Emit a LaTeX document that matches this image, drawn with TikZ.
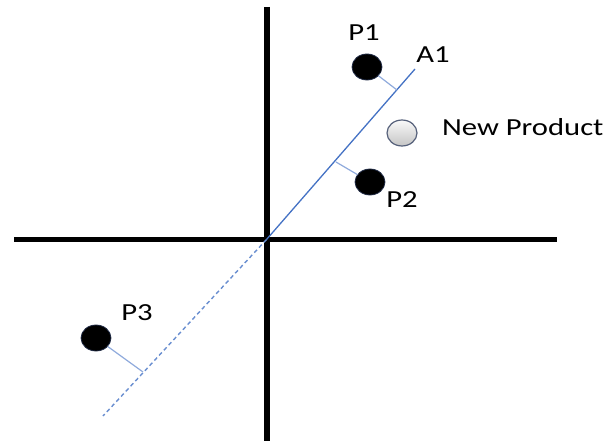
\documentclass[tikz,border=0pt]{standalone}
\usepackage{fontspec}
\newfontfamily\carlito{Carlito}
\usetikzlibrary{calc, shapes.geometric}
\definecolor{ABlue}{HTML}{4472C4}
\definecolor{LBlue}{HTML}{8FAADC}
\definecolor{DNavy}{HTML}{1F2A44}
\definecolor{LGrey}{HTML}{D6D6D6}
\definecolor{EGrey}{HTML}{55607A}

\begin{document}
\begin{tikzpicture}[x=1pt, y=-1pt,
    point/.style={ellipse, draw=DNavy, line width=0.8pt, fill=black, minimum width=30pt, minimum height=26pt, inner sep=0pt},
    newpoint/.style={ellipse, draw=EGrey, line width=1.2pt, top color=white!85!LGrey, bottom color=LGrey!80!gray, minimum width=30pt, minimum height=26pt, inner sep=0pt},
    lbl/.style={inner sep=0pt, font=\carlito\fontsize{24.5}{27}\selectfont}]

    \useasboundingbox (0,0) rectangle (614,441);

    % axes
    \coordinate (left) at (14,239.5);
    \coordinate (right) at (557,239.5);
    \coordinate (top) at (266.5,7);
    \coordinate (bottom) at (266.5,441);
    \draw[black, line width=5.5pt] (left) -- (right);
    \draw[black, line width=6pt] (top) -- (bottom);

    % A1 line
    \coordinate (o) at (266.5,239.5);
    \coordinate (a1end) at (415,69);
    \coordinate (a1low) at (103,416);
    \draw[ABlue, line width=1.3pt] (o) -- (a1end);
    \draw[ABlue!80, line width=1.4pt, dash pattern=on 4pt off 3pt] (o) -- (a1low);

    % feet
    \coordinate (f1) at (397,90);
    \coordinate (f2) at (336,162);
    \coordinate (f3) at (143,372);

    % points
    \node[point] (p1) at (367,67) {};
    \node[point] (p2) at (370,182) {};
    \node[point] (p3) at (96,338) {};
    \node[newpoint] (np) at (402,133) {};

    \draw[LBlue, line width=1.2pt] (p1) -- (f1);
    \draw[LBlue, line width=1.2pt] (p2) -- (f2);
    \draw[LBlue, line width=1.2pt] (p3) -- (f3);

    % labels
    \node[lbl] (p1lbl) at (364,33) {\scalebox{1.25}[1]{P1}};
    \node[lbl] (a1lbl) at (433,55) {\scalebox{1.25}[1]{A1}};
    \node[lbl] (p2lbl) at (402,200) {\scalebox{1.25}[1]{P2}};
    \node[lbl] (p3lbl) at (137,313) {\scalebox{1.25}[1]{P3}};
    \node[lbl, anchor=west] (nplbl) at (442,127) {\scalebox{1.25}[1]{New Product}};

\end{tikzpicture}
\end{document}
